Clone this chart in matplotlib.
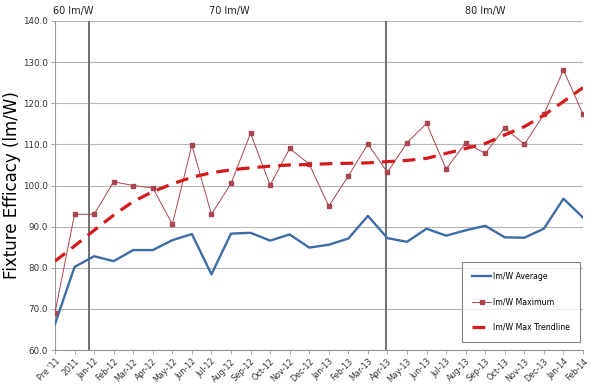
import matplotlib
matplotlib.use("Agg")
import matplotlib.pyplot as plt

months = ["Jan", "Feb", "Mar", "Apr", "May", "Jun", "Jul", "Aug", "Sep", "Oct", "Nov", "Dec"]
labels = ["Pre '11", "2011"] + [m + "-12" for m in months] + [m + "-13" for m in months] + ["Jan-14", "Feb-14"]

avg = [66.3, 80.2, 82.8, 81.6, 84.3, 84.3, 86.7, 88.2, 78.4, 88.3, 88.5, 86.6, 88.1, 84.9,
       85.6, 87.1, 92.6, 87.2, 86.3, 89.5, 87.8, 89.1, 90.2, 87.4, 87.3, 89.5, 96.8, 92.2]
mx = [69.1, 93.0, 93.0, 100.9, 100.0, 99.4, 90.6, 109.8, 93.0, 100.5, 112.7, 100.1, 109.0, 105.2,
      95.0, 102.3, 110.1, 103.2, 110.4, 115.1, 104.0, 110.4, 107.8, 114.0, 110.0, 117.3, 128.1, 117.3]
trend = [81.6, 85.3, 89.1, 92.8, 96.1, 98.5, 100.4, 102.0, 103.1, 103.8, 104.3, 104.7, 105.0, 105.1,
         105.3, 105.4, 105.5, 105.8, 106.1, 106.6, 107.8, 109.0, 110.2, 112.3, 114.3, 117.1, 120.4, 123.8]

dividers = [1.75, 16.95]
headers = [(0.95, "60 lm/W"), (8.9, "70 lm/W"), (22.0, "80 lm/W")]

x = list(range(len(labels)))

fig = plt.figure(figsize=(6, 3.87), dpi=100)
ax = fig.add_axes([55 / 600, 1 - 350 / 387, 528 / 600, 329 / 387])

ax.plot(x, avg, color="#3d6ca6", lw=1.7, label="lm/W Average", zorder=3)
ax.plot(x, mx, color="#a8454f", lw=0.7, marker="s", ms=2.2, label="lm/W Maximum", zorder=4)
ax.plot(x, trend, color="#d41a1a", lw=2.3, ls=(0, (4, 2.5)), label="lm/W Max Trendline", zorder=5)

for d in dividers:
    ax.axvline(d, color="#707070", lw=1.4, zorder=2)

ax.set_xlim(0, len(labels) - 1)
ax.set_ylim(60, 140)
ax.set_yticks(range(60, 141, 10))
ax.set_yticklabels(["%.1f" % v for v in range(60, 141, 10)], fontsize=6.3, color="#333333")
ax.set_xticks(x)
ax.set_xticklabels(labels, rotation=45, ha="right", rotation_mode="anchor", fontsize=5.8, color="#333333")
ax.tick_params(axis="both", length=3, color="#999999", width=0.6, pad=2)
ax.yaxis.grid(True, color="#b5b5b5", lw=0.8)
ax.set_axisbelow(True)
for s in ["top", "right"]:
    ax.spines[s].set_visible(False)
for s in ["left", "bottom"]:
    ax.spines[s].set_color("#999999")
    ax.spines[s].set_linewidth(0.8)

ax.set_ylabel("Fixture Efficacy (lm/W)", fontsize=12)
ax.yaxis.set_label_coords(-0.064, 0.5)

for xp, t in headers:
    ax.text(xp, 142.5, t, ha="center", va="center", fontsize=7, color="#222222")

leg = ax.legend(loc="lower right", bbox_to_anchor=(0.995, 0.025), fontsize=5.6, frameon=True,
                fancybox=False, labelspacing=2.1, borderpad=1.3, handlelength=2.4, handletextpad=0.3,
                borderaxespad=0)
leg.get_frame().set_edgecolor("#666666")
leg.get_frame().set_linewidth(0.8)

fig.savefig("out.png", dpi=100)
